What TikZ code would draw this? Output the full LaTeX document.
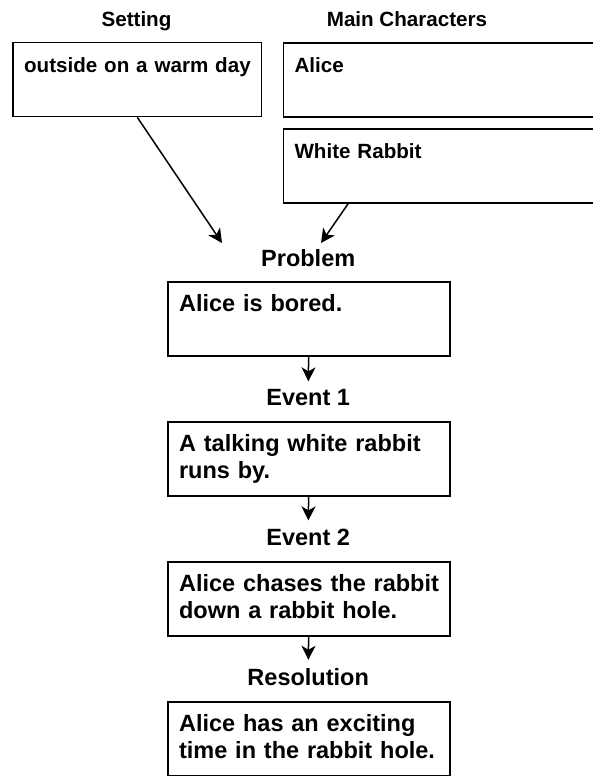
\documentclass[tikz,border=0pt]{standalone}
\usepackage{fontspec}
\setmainfont{Liberation Sans}
\usetikzlibrary{arrows.meta}

\begin{document}
\begin{tikzpicture}[x=1pt, y=-1pt,
    big font/.style={font=\bfseries\fontsize{23.5}{27}\selectfont},
    small font/.style={font=\bfseries\fontsize{20.6}{24}\selectfont},
    story box/.style={draw, line width=1.6pt, anchor=north west, align=left,
        inner xsep=11pt, inner ysep=0pt, text height=29.5pt, text depth=44.5pt},
    head node/.style={anchor=base, inner sep=0pt},
    arr/.style={-{Stealth[length=14pt, width=14pt, inset=4pt]}, line width=1.5pt}]

    \useasboundingbox (0,0) rectangle (593,776);
    \clip (0,0) rectangle (593,776);

    % Setting and characters
    \node[story box, small font, text width=226.4pt] (setting) at (12.3,41.7) {\mbox{outside on a warm day}};
    \node[story box, small font, text width=330pt] (alice) at (282.7,42.3) {Alice};
    \node[story box, small font, text width=330pt] (rabbit) at (282.7,128.3) {White Rabbit};

    \node[head node, small font] (settinghead) at (136.5,26.7) {Setting};
    \node[head node, small font] (charhead) at (407,26.7) {Main Characters};

    % Story line
    \node[story box, big font, text width=259.7pt] (prob) at (167.3,281) {Alice is bored.};
    \node[story box, big font, text width=259.7pt] (ev1) at (167.3,421) {\mbox{A talking white rabbit}\\\mbox{runs by.}};
    \node[story box, big font, text width=259.7pt] (ev2) at (167.3,561) {\mbox{Alice chases the rabbit}\\\mbox{down a rabbit hole.}};
    \node[story box, big font, text width=259.7pt] (res) at (167.3,701) {\mbox{Alice has an exciting}\\\mbox{time in the rabbit hole.}};

    \node[head node, big font] (probhead) at (308.2,266) {Problem};
    \node[head node, big font] (ev1head) at (308.2,405.7) {Event 1};
    \node[head node, big font] (ev2head) at (308.2,545) {Event 2};
    \node[head node, big font] (reshead) at (308.2,685) {Resolution};

    % Arrows
    \coordinate (settip) at (222,243);
    \coordinate (rabtip) at (321,243);
    \draw[arr] (setting.south) -- (settip);
    \draw[arr] ([xshift=65.3pt]rabbit.south west) -- (rabtip);
    \draw[arr, shorten >=8pt] (prob) -- (ev1head);
    \draw[arr, shorten >=8pt] (ev1) -- (ev2head);
    \draw[arr, shorten >=8pt] (ev2) -- (reshead);

\end{tikzpicture}
\end{document}
